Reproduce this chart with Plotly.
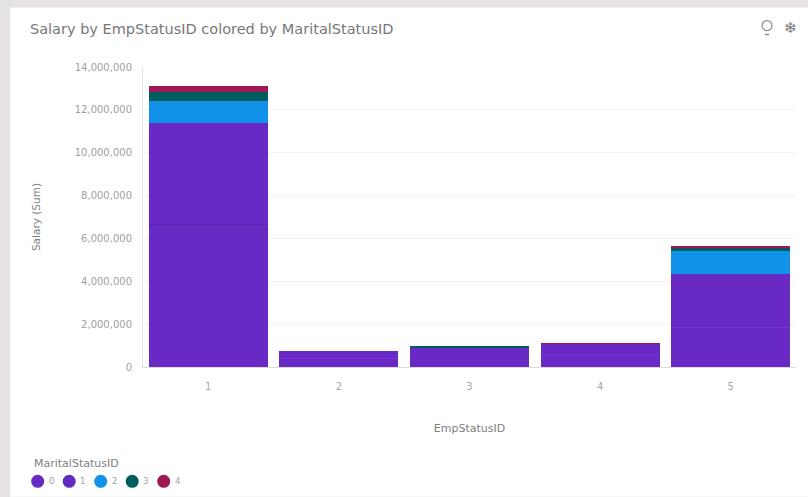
import plotly.graph_objects as go

title_text = "Salary by EmpStatusID colored by MaritalStatusID"
categories = ["1", "2", "3", "4", "5"]
y_ticks = [0, 2000000, 4000000, 6000000, 8000000, 10000000, 12000000, 14000000]
series_names = ["0", "1", "2", "3", "4"]
status_0 = [6650000, 400000, 480000, 560000, 1850000]
status_1 = [4750000, 350000, 440000, 520000, 2480000]
status_2 = [1000000, 0, 0, 0, 1070000]
status_3 = [450000, 0, 30000, 0, 150000]
status_4 = [250000, 0, 0, 20000, 100000]
series_values = [status_0, status_1, status_2, status_3, status_4]
colors = ["#6929c4", "#6929c4", "#1192e8", "#005d5d", "#9f1853"]
legend_colors = ["#6929c4", "#5f2bc0", "#1192e8", "#005d5d", "#9f1853"]
seam_colors = ["#5a22ad", "#7a38dc", "#6929c4", "#7a38dc", "#7a38dc"]
FONT = "DejaVu Sans"

W, H = 808, 497
L, R, T, B = 143, 796, 66.5, 367
def px(x): return (x - L) / (R - L)
def py(y): return (B - y) / (B - T)

fig = go.Figure()
for name, vals, c in zip(series_names, series_values, colors):
    fig.add_bar(x=categories, y=vals, name=name, marker=dict(color=c, line=dict(width=0)),
                showlegend=False)

shapes = [
    dict(type="rect", xref="paper", yref="paper", layer="below", x0=px(10), x1=px(808),
         y0=py(497), y1=py(7), fillcolor="white", line=dict(width=0)),
    dict(type="circle", xref="paper", yref="paper", x0=px(762), x1=px(772), y0=py(30), y1=py(20),
         line=dict(color="#8d8d8d", width=1.2), fillcolor="white"),
    dict(type="line", xref="paper", yref="paper", x0=px(765), x1=px(769), y0=py(34), y1=py(34),
         line=dict(color="#8d8d8d", width=1.5)),
]
for i, (v, sc) in enumerate(zip(status_0, seam_colors)):
    shapes.append(dict(type="line", xref="x", yref="y", x0=i - 0.455, x1=i + 0.455, y0=v, y1=v,
                       line=dict(color=sc, width=1)))
annotations = [
    dict(text=title_text, xref="paper", yref="paper", x=px(28), y=py(28), xanchor="left", yanchor="middle",
         showarrow=False, font=dict(size=14.5, color="#777777", family=FONT)),
    dict(text="❄", xref="paper", yref="paper", x=px(790), y=py(27), xanchor="center", yanchor="middle",
         showarrow=False, font=dict(size=15, color="#777777", family=FONT)),
    dict(text="MaritalStatusID", xref="paper", yref="paper", x=px(32), y=py(464), xanchor="left", yanchor="middle",
         showarrow=False, font=dict(size=11, color="#808080", family=FONT)),
]
for i, (name, c) in enumerate(zip(series_names, legend_colors)):
    cx = 37.7 + 31.5 * i
    shapes.append(dict(type="circle", xref="paper", yref="paper", x0=px(cx - 6.5), x1=px(cx + 6.5),
                       y0=py(488), y1=py(475), fillcolor=c, line=dict(width=0)))
    annotations.append(dict(text=name, xref="paper", yref="paper", x=px(cx + 9), y=py(481.5),
                            xanchor="left", yanchor="middle", showarrow=False,
                            font=dict(size=8.5, color="#a0a0a0", family=FONT)))

fig.update_layout(
    width=W, height=H, autosize=False, barmode="stack", bargap=0.09,
    paper_bgcolor="#e6e1e3", plot_bgcolor="white",
    margin=dict(l=L, r=W - R, t=T, b=H - B),
    font=dict(family=FONT, size=10, color="#8d8d8d"),
    showlegend=False,
    xaxis=dict(type="category", title=dict(text="EmpStatusID", standoff=33, font=dict(size=11, color="#808080")),
               showgrid=False, showline=True, linecolor="#dcdcdc", linewidth=1, ticks="",
               tickfont=dict(size=10, color="#a8a8a8"), ticklabelstandoff=10),
    yaxis=dict(range=[0, 14000000], tickvals=y_ticks, tickformat=",d",
               title=dict(text="Salary (Sum)", standoff=32, font=dict(size=10.5, color="#808080")),
               showgrid=True, gridcolor="#f2f2f2", gridwidth=1, zeroline=False, showline=True,
               linecolor="#e8e8e8", ticks="", tickfont=dict(size=10, color="#a0a0a0"), ticklabelstandoff=8),
    shapes=shapes, annotations=annotations,
)
fig.write_html("out.html", config={"displayModeBar": False},
               post_script="document.body.style.margin='0';document.body.style.overflow='hidden';")
